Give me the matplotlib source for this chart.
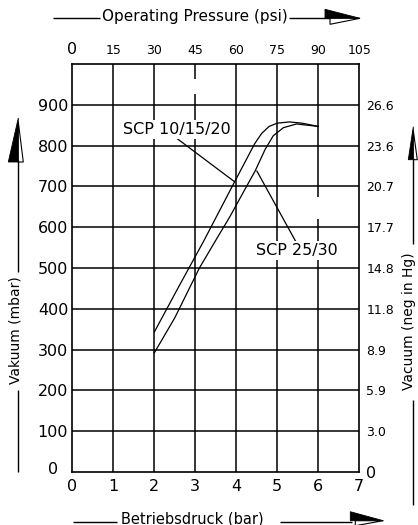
import matplotlib
matplotlib.use("Agg")
import matplotlib.pyplot as plt
from matplotlib.patches import Polygon

# ---------------- data ----------------
bar_ticks = [0, 1, 2, 3, 4, 5, 6, 7]
bar_labels = ["0", "1", "2", "3", "4", "5", "6", "7"]
psi_ticks = [0, 15, 30, 45, 60, 75, 90, 105]
psi_labels = ["0", "15", "30", "45", "60", "75", "90", "105"]
mbar_ticks = [0, 100, 200, 300, 400, 500, 600, 700, 800, 900]
mbar_labels = ["", "100", "200", "300", "400", "500", "600", "700", "800", "900"]
inhg_labels = ["0", "3.0", "5.9", "8.9", "11.8", "14.8", "17.7", "20.7", "23.6", "26.6"]

scp_small_x = [2.0, 2.6, 3.2, 3.9, 4.45, 4.62, 4.8, 5.0, 5.3, 5.6, 6.0]
scp_small_y = [343, 455, 565, 700, 805, 830, 847, 855, 858, 855, 847]
scp_large_x = [2.0, 2.5, 3.1, 3.6, 3.75, 3.85, 4.25, 4.46, 4.7, 4.9, 5.15, 5.47, 6.0]
scp_large_y = [292, 378, 500, 585, 610, 627, 700, 738, 790, 824, 844, 853, 847]

label_small = "SCP 10/15/20"
label_large = "SCP 25/30"

plt.rcParams["font.family"] = ["DejaVu Sans"]

W_PX, H_PX = 418, 525
fig = plt.figure(figsize=(W_PX / 100, H_PX / 100), dpi=100)

ax_l, ax_r, ax_t, ax_b = 72.3, 359.3, 64.0, 472.0
ax = fig.add_axes([ax_l / W_PX, (H_PX - ax_b) / H_PX,
                   (ax_r - ax_l) / W_PX, (ax_b - ax_t) / H_PX])
ax.set_xlim(0, 7)
ax.set_ylim(0, 1000)
for s in ax.spines.values():
    s.set_linewidth(1.2)
    s.set_zorder(5)

# grid
for y in mbar_ticks[1:]:
    ax.axhline(y, color="black", lw=1.1, zorder=1)
vsegs = {1: [(0, 1000)], 2: [(0, 1000)], 3: [(0, 926), (963, 1000)],
         4: [(0, 1000)], 5: [(0, 1000)], 6: [(0, 619), (673, 1000)]}
for x, segs in vsegs.items():
    for y0, y1 in segs:
        ax.plot([x, x], [y0, y1], color="black", lw=1.1, zorder=1,
                solid_capstyle="butt")

# curves
ax.plot(scp_small_x, scp_small_y, color="black", lw=0.9, zorder=3)
ax.plot(scp_large_x, scp_large_y, color="black", lw=0.9, zorder=3)

# annotations
bb = dict(boxstyle="square,pad=0.12", fc="white", ec="none")
ax.annotate(label_small, xy=(3.95, 712), xytext=(2.55, 840),
            fontsize=11.5, ha="center", va="center", bbox=bb, zorder=4,
            arrowprops=dict(arrowstyle="-", color="black", lw=0.9,
                            relpos=(0.48, 0.0), shrinkA=0, shrinkB=0))
ax.annotate(label_large, xy=(4.50, 738), xytext=(5.47, 543),
            fontsize=11.5, ha="center", va="center", bbox=bb, zorder=4,
            arrowprops=dict(arrowstyle="-", color="black", lw=0.9,
                            relpos=(0.5, 1.0), shrinkA=0, shrinkB=0))

# bottom / left ticks
ax.set_xticks(bar_ticks, labels=bar_labels)
ax.set_yticks(mbar_ticks, labels=mbar_labels)
ax.tick_params(axis="x", length=0, pad=5, labelsize=11.5)
ax.tick_params(axis="y", length=0, pad=3, labelsize=11.5)
ax.annotate("0", xy=(0, 0), xycoords="data", xytext=(-14, 2),
            textcoords="offset pixels", ha="right", va="center", fontsize=11.5)

# right axis (inch Hg)
axr = ax.twinx()
axr.set_ylim(0, 1000)
axr.set_yticks(mbar_ticks, labels=inhg_labels)
axr.tick_params(axis="y", length=0, pad=5, labelsize=9)
axr.get_yticklabels()[0].set_fontsize(11.5)
for s in axr.spines.values():
    s.set_visible(False)

# top axis (psi)
axt = ax.twiny()
axt.set_xlim(0, 105)
axt.set_xticks(psi_ticks, labels=psi_labels)
axt.tick_params(axis="x", length=0, pad=5, labelsize=9)
axt.get_xticklabels()[0].set_fontsize(11.5)
for s in axt.spines.values():
    s.set_visible(False)

# ---------------- decorations in pixel space ----------------
deco = fig.add_axes([0, 0, 1, 1], zorder=10)
deco.set_xlim(0, W_PX)
deco.set_ylim(H_PX, 0)
deco.axis("off")
deco.patch.set_alpha(0)


def harrow(tx, ty, L, hu, hd):
    deco.add_patch(Polygon([(tx - L, ty - hu), (tx, ty), (tx - L, ty)],
                           closed=True, fc="black", ec="black", lw=0.6))
    deco.add_patch(Polygon([(tx - L + 5, ty), (tx, ty), (tx - L + 5, ty + hd)],
                           closed=True, fc="white", ec="black", lw=0.8))


def varrow(tx, ty, L, hl, hr):
    deco.add_patch(Polygon([(tx - hl, ty + L), (tx, ty), (tx, ty + L)],
                           closed=True, fc="black", ec="black", lw=0.6))
    deco.add_patch(Polygon([(tx, ty + L), (tx, ty + 4), (tx + hr, ty + L)],
                           closed=True, fc="white", ec="black", lw=0.8))


lk = dict(color="black", lw=1.0, solid_capstyle="butt")
# top title
deco.text(194.5, 17, "Operating Pressure (psi)", ha="center", va="center",
          fontsize=11)
deco.plot([53, 100], [18.3, 18.3], **lk)
deco.plot([289, 330], [18.3, 18.3], **lk)
harrow(360, 18.3, 35, 9, 6)

# bottom title
deco.text(192, 519, "Betriebsdruck (bar)", ha="center", va="center",
          fontsize=10.5)
deco.plot([72.7, 116.7], [521.7, 521.7], **lk)
deco.plot([280, 352], [521.7, 521.7], **lk)
harrow(383.3, 520.7, 33, 9, 5)

# left label
deco.text(16, 330, "Vakuum (mbar)", ha="center", va="center", rotation=90,
          fontsize=10)
deco.plot([18.3, 18.3], [160, 272], **lk)
deco.plot([18.3, 18.3], [390, 472], **lk)
varrow(18.3, 118, 44, 10, 5)

# right label
deco.text(409.5, 321, "Vacuum (neg in Hg)", ha="center", va="center",
          rotation=90, fontsize=10)
deco.plot([413.3, 413.3], [158, 244], **lk)
deco.plot([413.3, 413.3], [400, 505], **lk)
varrow(413.3, 126.7, 33, 5, 4)

fig.savefig("out.png", dpi=100)
